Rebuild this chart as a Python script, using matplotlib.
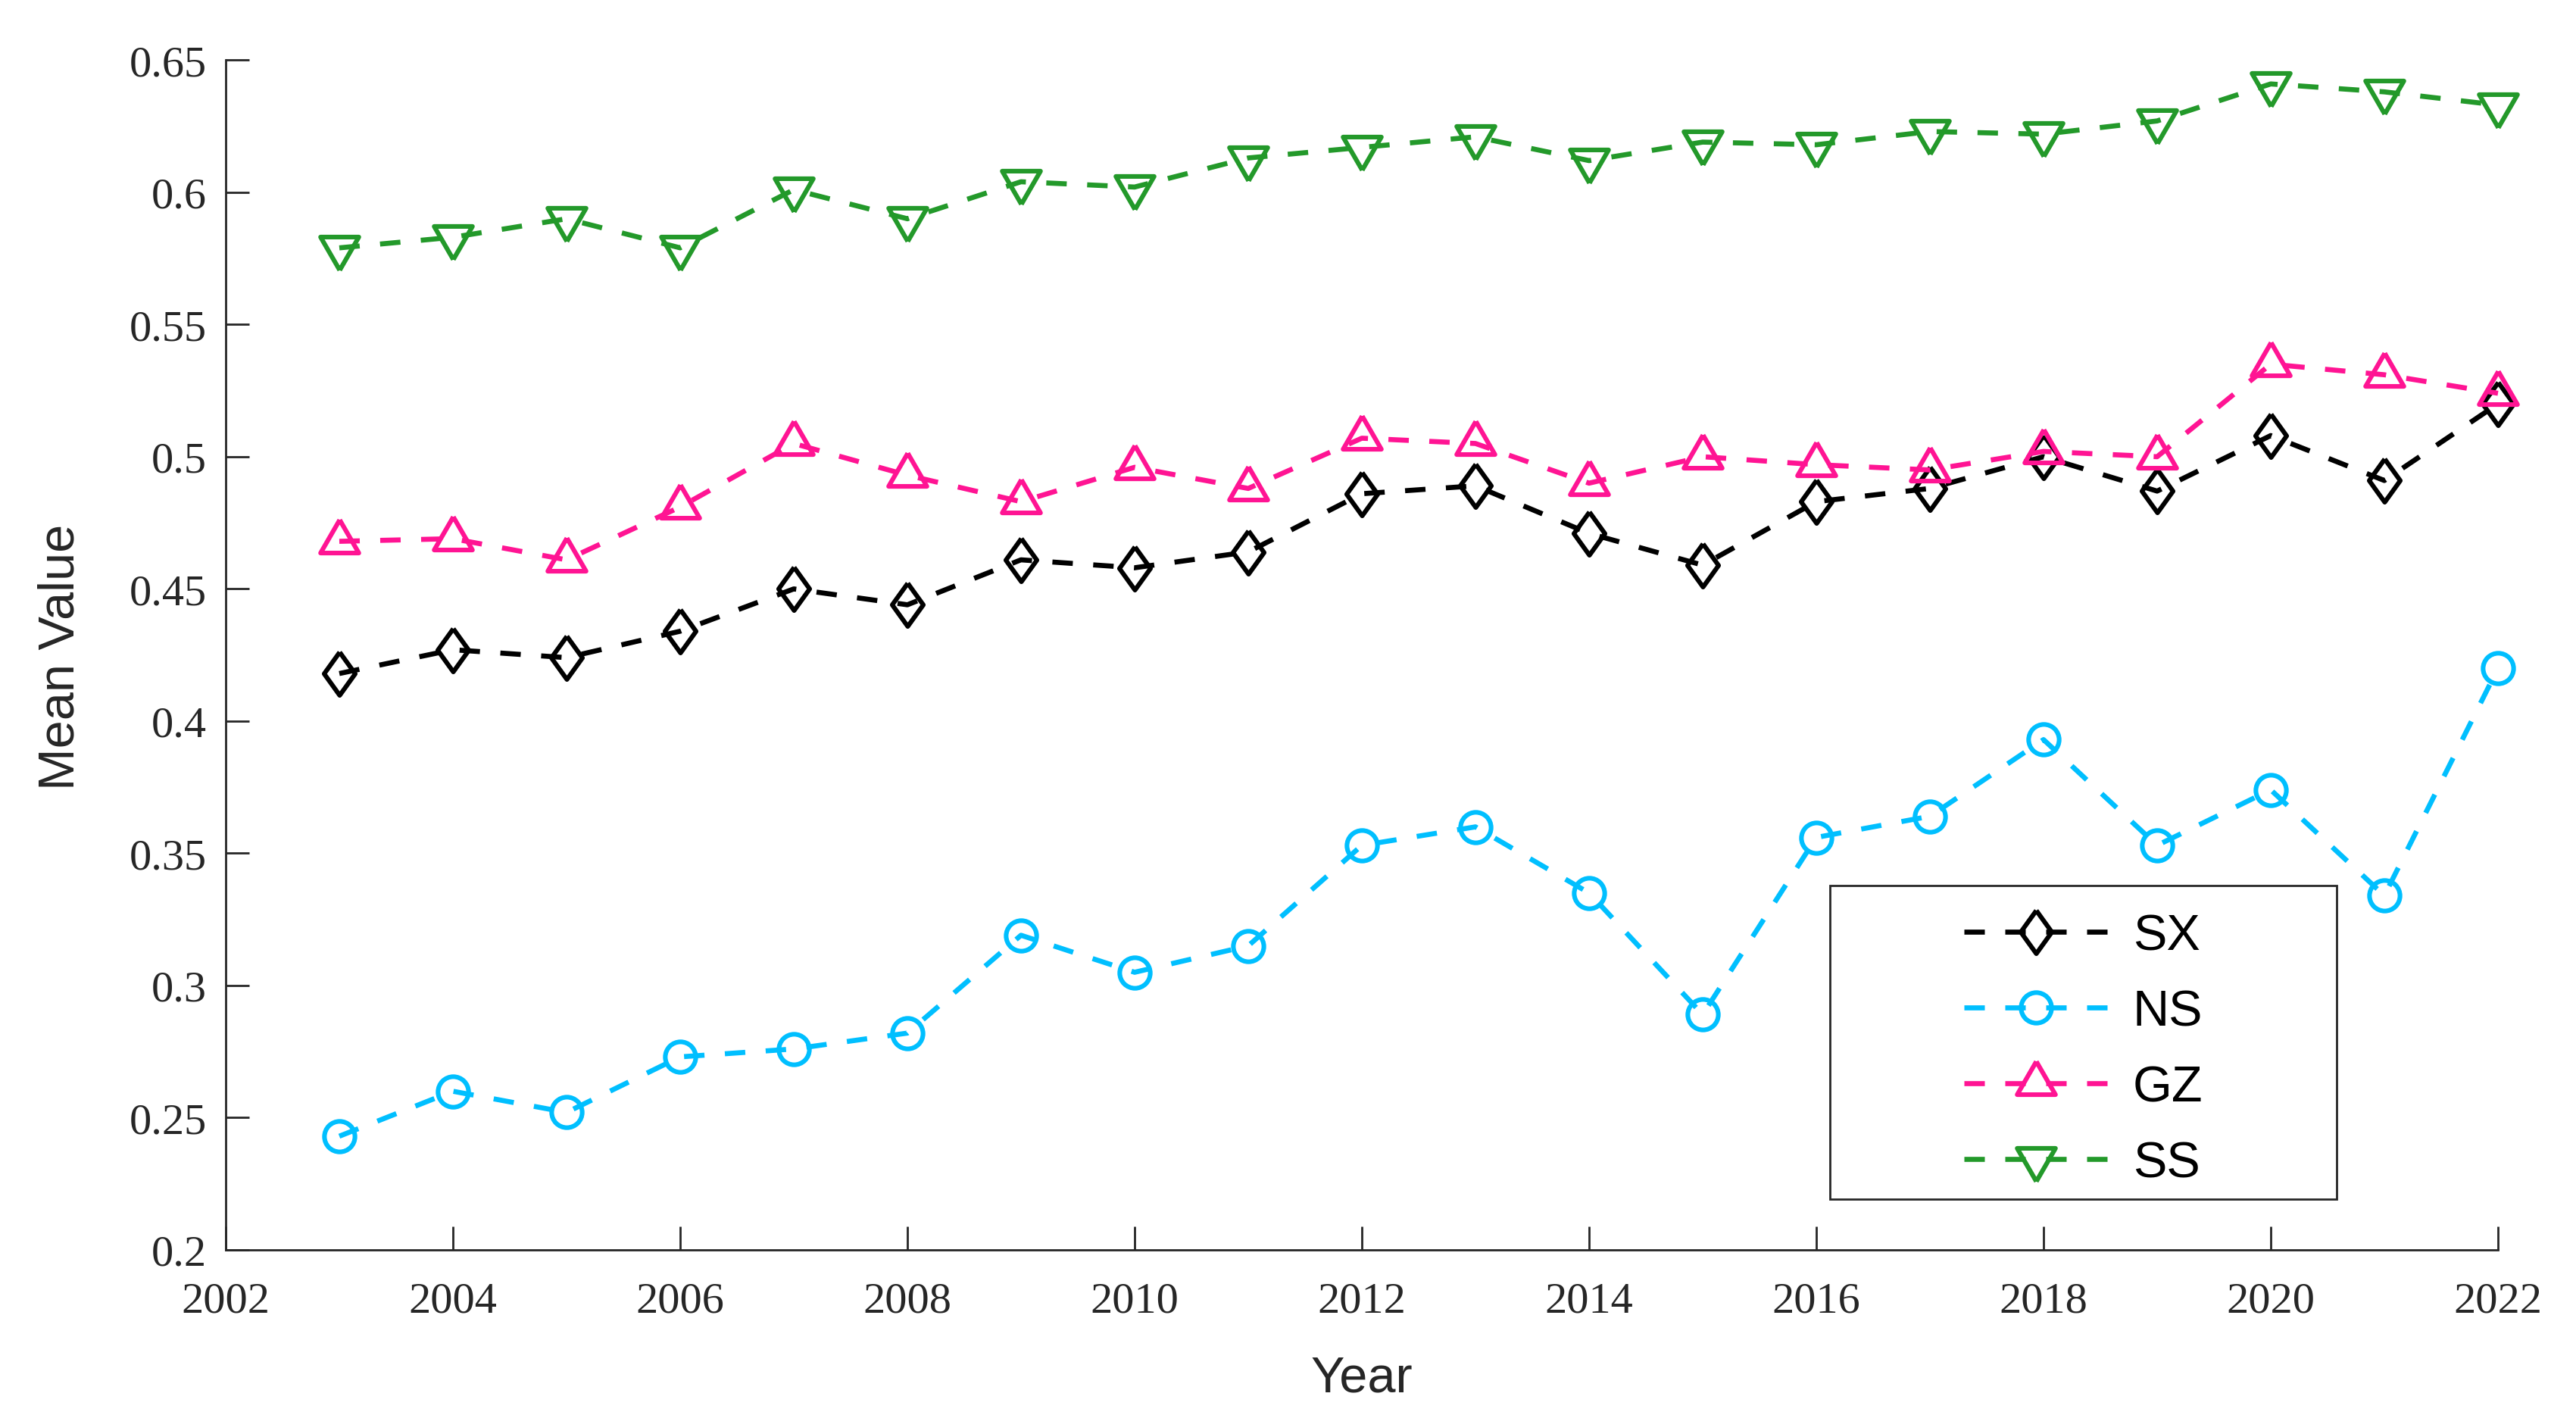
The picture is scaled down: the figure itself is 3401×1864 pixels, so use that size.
import matplotlib
matplotlib.use("Agg")
import matplotlib.pyplot as plt
from matplotlib.patches import Rectangle

# ---- data ----
years = list(range(2003, 2023))
sx = [0.418, 0.427, 0.424, 0.434, 0.450, 0.444, 0.461, 0.458, 0.464, 0.486,
      0.489, 0.471, 0.459, 0.483, 0.488, 0.500, 0.487, 0.508, 0.491, 0.520]
ns = [0.243, 0.260, 0.252, 0.273, 0.276, 0.282, 0.319, 0.305, 0.315, 0.353,
      0.360, 0.335, 0.289, 0.356, 0.364, 0.393, 0.353, 0.374, 0.334, 0.420]
gz = [0.468, 0.469, 0.461, 0.481, 0.505, 0.493, 0.483, 0.496, 0.488, 0.507,
      0.505, 0.490, 0.500, 0.497, 0.495, 0.502, 0.500, 0.535, 0.531, 0.524]
ss = [0.579, 0.583, 0.590, 0.579, 0.601, 0.590, 0.604, 0.602, 0.613, 0.617,
      0.621, 0.612, 0.619, 0.618, 0.623, 0.622, 0.627, 0.641, 0.638, 0.633]
series_names = ["SX", "NS", "GZ", "SS"]
x_ticks = list(range(2002, 2023, 2))
y_ticks = [0.2, 0.25, 0.3, 0.35, 0.4, 0.45, 0.5, 0.55, 0.6, 0.65]
y_tick_labels = ["0.2", "0.25", "0.3", "0.35", "0.4", "0.45", "0.5", "0.55", "0.6", "0.65"]

# ---- styles ----
colors = ["#000000", "#00BFFF", "#FF1493", "#23992A"]
diamond = [(0, 1), (0.72, 0), (0, -1), (-0.72, 0), (0, 1)]
tri_up = [(0, 1.155), (1, -0.577), (-1, -0.577), (0, 1.155)]
tri_dn = [(0, -1.155), (1, 0.577), (-1, 0.577), (0, -1.155)]
markers = [diamond, "o", tri_up, tri_dn]
msizes = [20.5, 14.5, 21, 21]

axcol = "#262626"
fig = plt.figure(figsize=(3401 / 200, 1865 / 200), dpi=200)
ax = fig.add_axes([0.08762, 0.11475, 0.88209, 0.84215])

for vals, name, c, m, ms in zip([sx, ns, gz, ss], series_names, colors, markers, msizes):
    ax.plot(years, vals, linestyle=(0, (4.05, 4.05)), linewidth=2.4, color=c,
            marker=m, markersize=ms, markerfacecolor="none",
            markeredgecolor=c, markeredgewidth=2.2, label=name, clip_on=False)

ax.set_xlim(2002, 2022)
ax.set_ylim(0.2, 0.65)
ax.set_xticks(x_ticks)
ax.set_xticklabels([str(t) for t in x_ticks])
ax.set_yticks(y_ticks)
ax.set_yticklabels(y_tick_labels)

for s in ["top", "right"]:
    ax.spines[s].set_visible(False)
for s in ["left", "bottom"]:
    ax.spines[s].set_color(axcol)
    ax.spines[s].set_linewidth(1.0)

ax.tick_params(direction="in", length=11, width=1.0, color=axcol, labelcolor=axcol,
               labelsize=21)
ax.tick_params(axis="x", pad=15)
ax.tick_params(axis="y", pad=9)
for lab in ax.get_xticklabels() + ax.get_yticklabels():
    lab.set_fontfamily("Liberation Serif")

ax.set_xlabel("Year", fontsize=24, family="Liberation Sans", color=axcol)
ax.set_ylabel("Mean Value", fontsize=24, family="Liberation Sans", color=axcol)
ax.xaxis.set_label_coords(0.5, -0.088)
ax.yaxis.set_label_coords(-0.062, 0.499)

leg = ax.legend(loc="center left", bbox_to_anchor=(0.765, 0.168), frameon=False,
                borderpad=0, borderaxespad=0, handlelength=2.86, handletextpad=0.48,
                labelspacing=0.57, numpoints=1,
                prop={"family": "Liberation Sans", "size": 24})
ax.add_patch(Rectangle((0.706, 0.0427), 0.223, 0.2636, transform=ax.transAxes,
                       facecolor="none", edgecolor=axcol, linewidth=1.0,
                       clip_on=False, zorder=5))

fig.savefig("out.png", dpi=200, facecolor="white")
